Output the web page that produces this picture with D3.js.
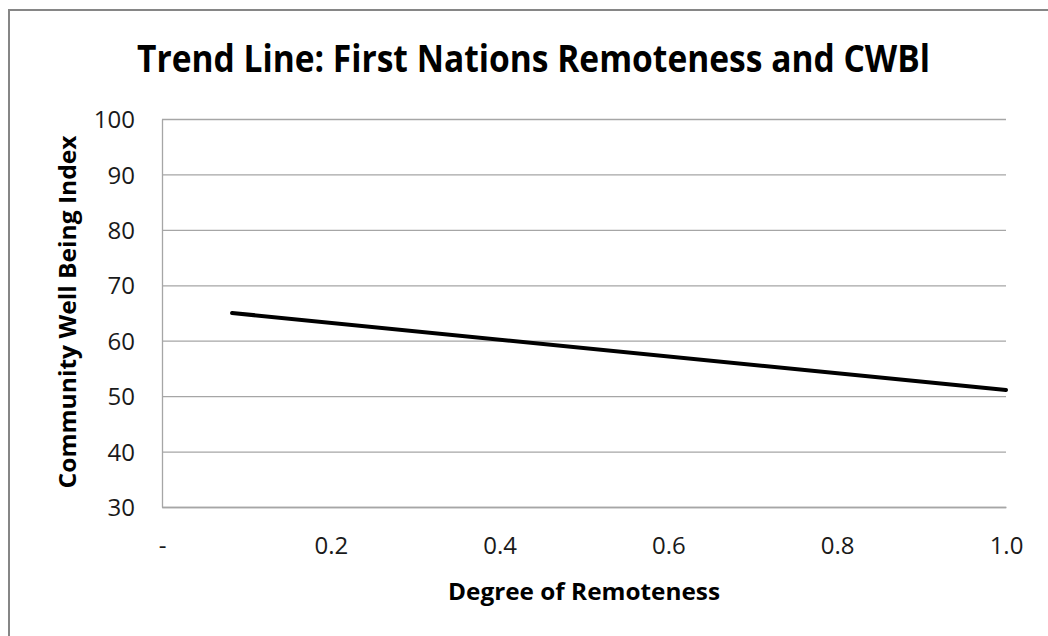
<!DOCTYPE html>
<html>
<head>
<meta charset="utf-8">
<script src="https://cdn.jsdelivr.net/npm/d3@7"></script>
<style>
  html, body { margin: 0; padding: 0; background: #fff; }
  svg { display: block; }
</style>
</head>
<body>
<svg id="chart"></svg>
<script>
// trend line end points
const trendX = [0.083, 1.0]
const trendY = [65.0, 51.1]

const xTicks = [0, 0.2, 0.4, 0.6, 0.8, 1.0]
const yTicks = [30, 40, 50, 60, 70, 80, 90, 100]

const titleText = "Trend Line: First Nations Remoteness and CWBl"
const xTitle = "Degree of Remoteness"
const yTitle = "Community Well Being Index"

const width = 1048
const height = 636
const m = {top: 119, right: 42, bottom: 129, left: 162}
const iw = width - m.left - m.right
const ih = height - m.top - m.bottom

const svg = d3.select("#chart").attr("width", width).attr("height", height)

// outer chart border (only top/left visible in the picture)
svg.append("rect")
  .attr("x", 9).attr("y", 10)
  .attr("width", width + 20).attr("height", height + 20)
  .attr("fill", "#fff")
  .attr("stroke", "#868686")
  .attr("stroke-width", 2)

const x = d3.scaleLinear().domain([0, 1]).range([0, iw])
const y = d3.scaleLinear().domain([30, 100]).range([ih, 0])

const g = svg.append("g").attr("transform", `translate(${m.left},${m.top})`)

// gridlines
g.append("g")
  .call(d3.axisLeft(y).tickValues(yTicks).tickSize(-iw).tickFormat(""))
  .call((gg) => gg.select(".domain").remove())
  .call((gg) => gg.selectAll("line").attr("stroke", "#a6a6a6").attr("stroke-width", 1.3))

// y axis
g.append("g")
  .call(d3.axisLeft(y).tickValues(yTicks).tickSize(0).tickPadding(27))
  .call((gg) => gg.select(".domain").attr("stroke", "#a6a6a6").attr("stroke-width", 1.3))
  .call((gg) => gg.selectAll("text")
    .attr("font-family", "'Open Sans', sans-serif")
    .attr("font-size", 24)
    .attr("fill", "#1a1a1a")
    .attr("dy", "0.36em"))

// x axis
g.append("g")
  .attr("transform", `translate(0,${ih})`)
  .call(d3.axisBottom(x).tickValues(xTicks).tickSize(0).tickPadding(30)
    .tickFormat((d) => (d === 0 ? "-" : d3.format(".1f")(d))))
  .call((gg) => gg.select(".domain").attr("stroke", "#a6a6a6").attr("stroke-width", 1.3))
  .call((gg) => gg.selectAll("text")
    .attr("font-family", "'Open Sans', sans-serif")
    .attr("font-size", 24)
    .attr("fill", "#1a1a1a"))

// trend line
const pts = trendX.map((v, i) => ({x: v, y: trendY[i]}))
g.append("path")
  .datum(pts)
  .attr("fill", "none")
  .attr("stroke", "#000")
  .attr("stroke-width", 4)
  .attr("stroke-linecap", "round")
  .attr("d", d3.line().x((d) => x(d.x)).y((d) => y(d.y)))

// titles
svg.append("text")
  .attr("x", 533.5).attr("y", 72)
  .attr("text-anchor", "middle")
  .attr("font-family", "'Liberation Sans Narrow', 'Open Sans', sans-serif")
  .attr("font-weight", "bold")
  .attr("font-size", 37)
  .attr("textLength", 793)
  .attr("lengthAdjust", "spacingAndGlyphs")
  .text(titleText)

svg.append("text")
  .attr("x", m.left + iw / 2).attr("y", 600)
  .attr("text-anchor", "middle")
  .attr("font-family", "'Open Sans', sans-serif")
  .attr("font-weight", "bold")
  .attr("font-size", 24)
  .attr("textLength", 272)
  .attr("lengthAdjust", "spacingAndGlyphs")
  .text(xTitle)

svg.append("text")
  .attr("transform", `translate(76,${m.top + ih / 2 - 1}) rotate(-90)`)
  .attr("text-anchor", "middle")
  .attr("font-family", "'Open Sans', sans-serif")
  .attr("font-weight", "bold")
  .attr("font-size", 24)
  .attr("textLength", 353)
  .attr("lengthAdjust", "spacingAndGlyphs")
  .text(yTitle)
</script>
</body>
</html>
